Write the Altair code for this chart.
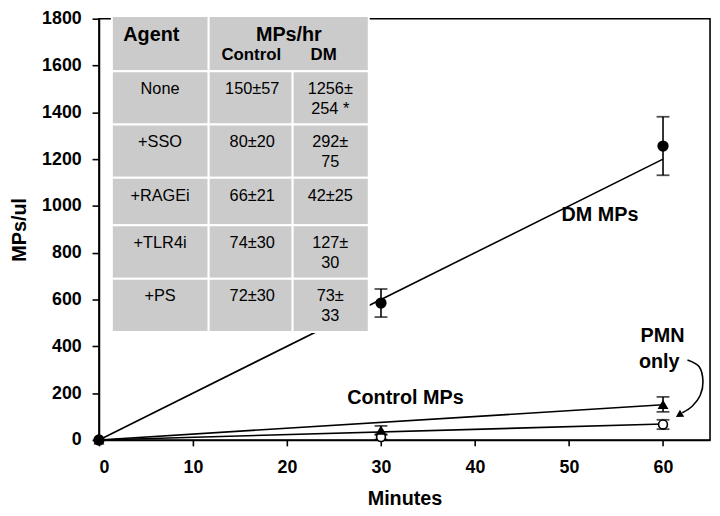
import altair as alt
import pandas as pd

# ---------------- data ----------------
minutes = [0, 30, 60]
dm_mean = [0, 585, 1256]
dm_err = [0, 60, 125]
ctrl_mean = [0, 42, 152]
ctrl_err = [0, 18, 32]
pmn_mean = [0, 12, 66]
pmn_err = [0, 10, 20]

fit_minutes = [0, 60]
dm_fit = [0, 1200]
ctrl_fit = [0, 150]
pmn_fit = [0, 68]

x_ticks = [0, 10, 20, 30, 40, 50, 60]
y_ticks = [0, 200, 400, 600, 800, 1000, 1200, 1400, 1600, 1800]

# inset table
agents = ["None", "+SSO", "+RAGEi", "+TLR4i", "+PS"]
control_rate = ["150±57", "80±20", "66±21", "74±30", "72±30"]
dm_rate_line1 = ["1256±", "292±", "42±25", "127±", "73±"]
dm_rate_line2 = ["254 *", "75", "", "30", "33"]
header_top = ["Agent", "MPs/hr"]
header_sub = ["Control", "DM"]

# table layout (data units)
col_edges = [1.37, 11.67, 20.6, 28.7]
row_edges = [1812, 1576, 1348, 1120, 917, 689, 461]
col_centers = [6.5, 16.3, 24.6]
line_gap = 84

# curved arrow path (annotation)
arrow_x = [62.6, 63.85, 64.25, 63.95, 63.1, 62.05]
arrow_y = [342, 313, 249, 190, 144, 116]

FONT = "Liberation Sans"
X = alt.Scale(domain=[0, 65], nice=False)
Y = alt.Scale(domain=[0, 1800], nice=False)

series = pd.DataFrame({
    "m": minutes * 3,
    "v": dm_mean + ctrl_mean + pmn_mean,
    "e": dm_err + ctrl_err + pmn_err,
    "s": ["DM"] * 3 + ["Control"] * 3 + ["PMN"] * 3,
})
series["lo"] = series["v"] - series["e"]
series["hi"] = series["v"] + series["e"]
errs = series[series["e"] > 0]

fits = pd.DataFrame({
    "m": fit_minutes * 3,
    "v": dm_fit + ctrl_fit + pmn_fit,
    "s": ["DM"] * 2 + ["Control"] * 2 + ["PMN"] * 2,
})

xenc = alt.X("m:Q", scale=X, title="Minutes",
             axis=alt.Axis(values=x_ticks, grid=False, format="d"))
yenc = alt.Y("v:Q", scale=Y, title="MPs/ul",
             axis=alt.Axis(values=y_ticks, grid=False, format="d"))

fit_lines = alt.Chart(fits).mark_line(color="black", strokeWidth=1.6, clip=False).encode(
    x=xenc, y=yenc, detail="s:N")

err_rule = alt.Chart(errs).mark_rule(color="black", strokeWidth=1.6).encode(
    x="m:Q", y="lo:Q", y2="hi:Q")
err_cap_hi = alt.Chart(errs).mark_tick(orient="horizontal", size=13, thickness=1.8, color="black").encode(
    x="m:Q", y="hi:Q")
err_cap_lo = alt.Chart(errs).mark_tick(orient="horizontal", size=13, thickness=1.8, color="black").encode(
    x="m:Q", y="lo:Q")

dm_pts = alt.Chart(series[series.s == "DM"]).mark_point(
    shape="circle", filled=True, color="black", size=130, opacity=1).encode(x="m:Q", y="v:Q")
ctrl_pts = alt.Chart(series[series.s == "Control"]).mark_point(
    shape="triangle-up", filled=True, color="black", size=120, opacity=1).encode(x="m:Q", y="v:Q")
pmn_pts = alt.Chart(series[series.s == "PMN"]).mark_point(
    shape="circle", filled=True, fill="white", stroke="black", strokeWidth=1.6,
    size=80, opacity=1).encode(x="m:Q", y="v:Q")

# table cells
cells = []
cells.append({"x": col_edges[0], "x2": col_edges[1], "y": row_edges[0], "y2": row_edges[1]})
cells.append({"x": col_edges[1], "x2": col_edges[3], "y": row_edges[0], "y2": row_edges[1]})
for r in range(len(agents)):
    for c in range(3):
        cells.append({"x": col_edges[c], "x2": col_edges[c + 1],
                      "y": row_edges[r + 1], "y2": row_edges[r + 2]})
cells = pd.DataFrame(cells)
table_rects = alt.Chart(cells).mark_rect(fill="#cbcbcb", stroke="white", strokeWidth=2).encode(
    x="x:Q", x2="x2", y="y:Q", y2="y2")

# table texts
normal = []
for r in range(len(agents)):
    ytop = row_edges[r + 1] - 76
    normal.append({"x": col_centers[0], "y": ytop, "t": agents[r]})
    normal.append({"x": col_centers[1], "y": ytop, "t": control_rate[r]})
    normal.append({"x": col_centers[2], "y": ytop, "t": dm_rate_line1[r]})
    if dm_rate_line2[r]:
        normal.append({"x": col_centers[2], "y": ytop - line_gap, "t": dm_rate_line2[r]})
normal = pd.DataFrame(normal)
table_text = alt.Chart(normal).mark_text(font=FONT, fontSize=16.5, color="black").encode(
    x="x:Q", y="y:Q", text="t:N")

head_big = pd.DataFrame({"x": [5.57, 20.2], "y": [1732, 1732], "t": header_top})
head_small = pd.DataFrame({"x": [16.2, 23.9], "y": [1644, 1644], "t": header_sub})
head_big_t = alt.Chart(head_big).mark_text(font=FONT, fontSize=20, fontWeight="bold", color="black").encode(
    x="x:Q", y="y:Q", text="t:N")
head_small_t = alt.Chart(head_small).mark_text(font=FONT, fontSize=17, fontWeight="bold", color="black").encode(
    x="x:Q", y="y:Q", text="t:N")

# annotations
ann = pd.DataFrame({
    "x": [53.3, 32.6, 59.95, 59.6],
    "y": [959, 177, 444, 334],
    "t": ["DM MPs", "Control MPs", "PMN", "only"],
})
ann_t = alt.Chart(ann).mark_text(font=FONT, fontSize=20, fontWeight="bold", color="black").encode(
    x="x:Q", y="y:Q", text="t:N")

arrow = pd.DataFrame({"x": arrow_x, "y": arrow_y, "i": list(range(len(arrow_x)))})
arrow_line = alt.Chart(arrow).mark_line(color="black", strokeWidth=1.6, interpolate="cardinal", clip=False).encode(
    x="x:Q", y="y:Q", order="i:Q")
arrow_head = alt.Chart(pd.DataFrame({"x": [61.7], "y": [106]})).mark_point(
    shape="triangle-up", filled=True, color="black", size=70, angle=239, opacity=1).encode(
    x="x:Q", y="y:Q")

chart = alt.layer(
    fit_lines, table_rects, table_text, head_big_t, head_small_t,
    err_rule, err_cap_hi, err_cap_lo, pmn_pts, ctrl_pts, dm_pts,
    ann_t, arrow_line, arrow_head,
).properties(
    width=618, height=426,
    autosize=alt.AutoSizeParams(type="none"),
    padding={"left": 92, "top": 8, "right": 2, "bottom": 66},
    background="white",
).configure(font=FONT).configure_view(
    stroke="black", strokeWidth=1.6
).configure_axis(
    labelFont=FONT, labelFontSize=18, labelFontWeight="bold", labelColor="black",
    titleFont=FONT, titleFontSize=20, titleFontWeight="bold", titleColor="black",
    domainColor="black", domainWidth=1.6, tickColor="black", tickWidth=1.6,
).configure_axisX(
    tickSize=6, labelPadding=13, titlePadding=12,
).configure_axisY(
    tickSize=7, labelPadding=11, titlePadding=12,
)

chart.save("out.html", embed_options={"renderer": "svg", "actions": False})
